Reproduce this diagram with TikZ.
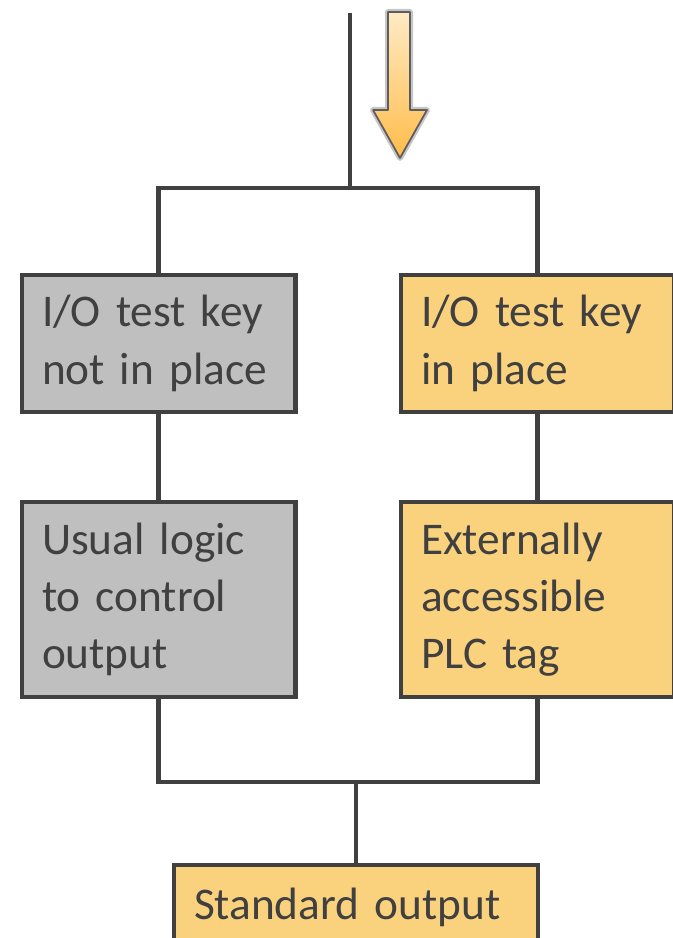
\documentclass[tikz,border=0pt]{standalone}
\usepackage{fontspec}
\setmainfont{Carlito}
\usetikzlibrary{calc}
\definecolor{Ink}{HTML}{404040}
\definecolor{Stone}{HTML}{BFBFBF}
\definecolor{Honey}{HTML}{FAD27E}
\definecolor{Cream}{HTML}{FFEAC4}
\definecolor{Amber}{HTML}{FFBC4A}

\begin{document}
\begin{tikzpicture}[x=0.75pt,y=-0.75pt,
    wire/.style={Ink,line width=3.6pt},
    box/.style={draw=Ink,line width=3.6pt,anchor=north west,outer sep=0pt,text=Ink,align=left,
      font=\fontsize{34}{43}\selectfont,inner xsep=15pt,text width=175pt,minimum height=102.75pt},
    offbox/.style={box,fill=Stone},
    onbox/.style={box,fill=Honey}]
  \useasboundingbox (0,0) rectangle (672,938);
  % branches
  \node[offbox] (keyoff) at (22,275) {I/O test key\\not in place};
  \node[onbox] (keyon) at (401,275) {I/O test key\\in place};
  \node[offbox,minimum height=146.25pt] (logic) at (22,502) {Usual logic\\to control\\output};
  \node[onbox,minimum height=146.25pt] (tag) at (401,502) {Externally\\accessible\\PLC tag};
  \node[onbox,text width=243pt,minimum height=63pt] (stdout) at (174,865) {Standard output};
  \coordinate (feed) at (350,13);
  \coordinate (split) at (350,188);
  \coordinate (level) at (0,782);
  \coordinate (join) at (stdout.north |- level);
  \draw[wire] (feed) -- (split);
  \draw[wire] (keyoff.north) |- (split) -| (keyon.north);
  \draw[wire] (keyoff.south) -- (logic.north);
  \draw[wire] (keyon.south) -- (tag.north);
  \draw[wire] (logic.south) |- (join) -| (tag.south);
  \draw[wire] (join) -- (stdout.north);
  % down arrow
  \draw[Ink!30,line width=4.5pt,line join=round] (388,12) -- (410,12) -- (410,110) -- (427,110) -- (400,158) -- (373,110) -- (388,110) -- cycle;
  \shade[top color=Cream,bottom color=Amber,draw=Ink!85,line width=1.3pt,line join=round] (388,12) -- (410,12) -- (410,110) -- (427,110) -- (400,158) -- (373,110) -- (388,110) -- cycle;
\end{tikzpicture}
\end{document}
